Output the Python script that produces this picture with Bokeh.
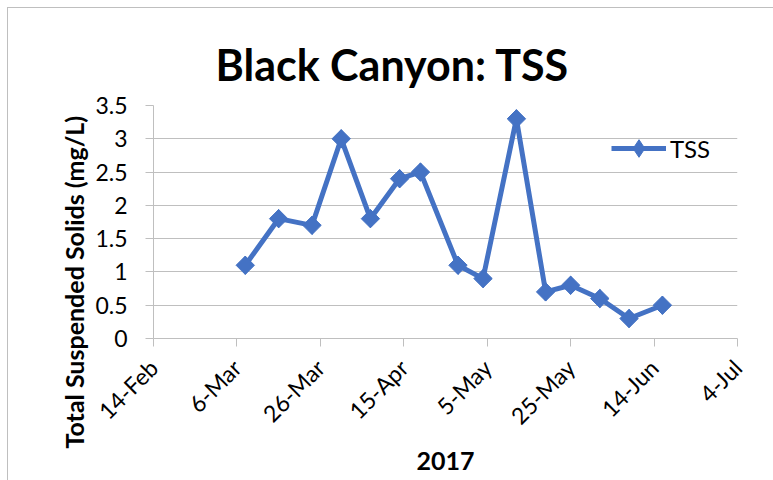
import pandas as pd
from math import pi
from bokeh.plotting import figure
from bokeh.models import (FixedTicker, Title, Legend, LegendItem,
                          ColumnDataSource, Range1d, InlineStyleSheet)
from bokeh.embed import file_html
from bokeh.resources import INLINE

# ---- data ----
start_date = "2017-02-14"
sample_dates = ["2017-03-08", "2017-03-16", "2017-03-24", "2017-03-31", "2017-04-07",
                "2017-04-14", "2017-04-19", "2017-04-28", "2017-05-04", "2017-05-12",
                "2017-05-19", "2017-05-25", "2017-06-01", "2017-06-08", "2017-06-16"]
tss = [1.1, 1.8, 1.7, 3.0, 1.8, 2.4, 2.5, 1.1, 0.9, 3.3, 0.7, 0.8, 0.6, 0.3, 0.5]
x_tick_days = [0, 20, 40, 60, 80, 100, 120, 140]
x_tick_labels = ["14-Feb", "6-Mar", "26-Mar", "15-Apr", "5-May", "25-May", "14-Jun", "4-Jul"]
y_ticks = [0, 0.5, 1, 1.5, 2, 2.5, 3, 3.5]
y_tick_labels = ["0", "0.5", "1", "1.5", "2", "2.5", "3", "3.5"]

title_text = "Black Canyon: TSS"
y_title = "Total Suspended Solids (mg/L)"
x_title = "2017"
series_name = "TSS"

days = (pd.to_datetime(sample_dates) - pd.Timestamp(start_date)).days.tolist()
src = ColumnDataSource(dict(x=days, y=tss))

FONT = "Lato"
BLUE = "#4472C4"
GRID = "#BFBFBF"

p = figure(width=773, height=480, output_backend="svg", toolbar_location=None,
           x_range=Range1d(x_tick_days[0], x_tick_days[-1]),
           y_range=Range1d(y_ticks[0], y_ticks[-1]),
           min_border_left=153, min_border_right=36, min_border_top=105,
           min_border_bottom=142)
p.outline_line_color = None
p.background_fill_color = "white"
p.border_fill_color = "white"

# chart border: thin gray line on top and left (as in reference)
p.stylesheets = [InlineStyleSheet(css=(
    ":host { position: relative; }"
    ":host::after { content: ''; position: absolute; left: 7px; top: 7px; "
    "right: 0; bottom: 0; border-left: 1px solid #BFBFBF; "
    "border-top: 1px solid #BFBFBF; pointer-events: none; }"))]

# title
p.title.text = title_text
p.title.align = "left"
p.title.text_font = FONT
p.title.text_font_size = "43px"
p.title.text_font_style = "bold"
p.title.text_color = "black"
p.title.offset = 62
p.title.standoff = 32

# axes
for ax in (p.xaxis[0], p.yaxis[0]):
    ax.axis_line_color = GRID
    ax.major_tick_line_color = GRID
    ax.minor_tick_line_color = None
    ax.major_tick_in = 0
    ax.major_tick_out = 8
    ax.major_label_text_font = FONT
    ax.major_label_text_font_size = "23px"
    ax.major_label_text_color = "black"

p.xaxis.ticker = FixedTicker(ticks=x_tick_days)
p.xaxis.major_label_overrides = dict(zip(x_tick_days, x_tick_labels))
p.xaxis.major_label_orientation = pi / 4
p.xaxis.major_label_standoff = 17
p.xaxis.axis_label = x_title
p.xaxis.axis_label_text_font = FONT
p.xaxis.axis_label_text_font_size = "25px"
p.xaxis.axis_label_text_font_style = "bold"
p.xaxis.axis_label_text_color = "black"
p.xaxis.axis_label_standoff = 10

p.yaxis.ticker = FixedTicker(ticks=y_ticks)
p.yaxis.major_label_overrides = dict(zip(y_ticks, y_tick_labels))
p.yaxis.major_label_standoff = 18

p.xgrid.grid_line_color = None
p.ygrid.grid_line_color = GRID
p.ygrid.grid_line_width = 1

# y-axis title as a side title, shifted down like the reference
p.add_layout(Title(text=y_title, align="left", offset=-110, standoff=8,
                   text_font=FONT, text_font_size="25px", text_font_style="bold",
                   text_color="black"), "left")

# series
ln = p.line("x", "y", source=src, line_color=BLUE, line_width=5)
# diamond underneath (hidden by the markers, used for the legend sample)
dm = p.scatter("x", "y", source=src, marker="diamond", size=18,
               fill_color=BLUE, line_color=BLUE)
mk = p.scatter("x", "y", source=src, marker="square", angle=pi / 4, size=13,
               fill_color=BLUE, line_color=BLUE)

legend = Legend(items=[LegendItem(label=series_name, renderers=[ln, dm])],
                location=(458, 168), glyph_width=55, glyph_height=44, label_height=44,
                label_standoff=4, padding=0, margin=0, border_line_color=None,
                background_fill_alpha=0, label_text_font=FONT,
                label_text_font_size="24px", label_text_color="black")
p.add_layout(legend)

open("out.html", "w").write(file_html(p, INLINE))
